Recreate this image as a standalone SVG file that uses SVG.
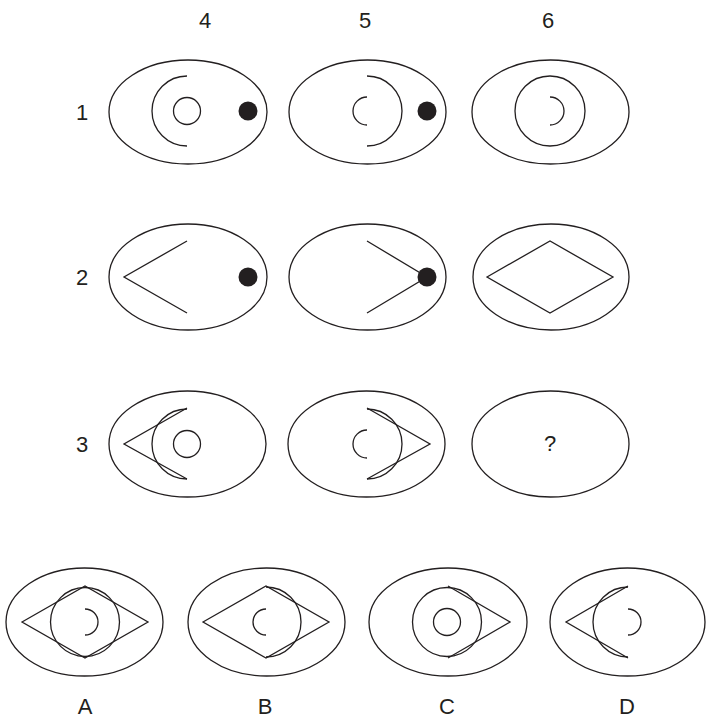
<svg xmlns="http://www.w3.org/2000/svg" width="709" height="723" viewBox="0 0 709 723">
<style>
.s{fill:none;stroke:#231f20;stroke-width:1.3}
.d{fill:#231f20;stroke:none}
.t{font-family:"Liberation Sans",Arial,sans-serif;font-size:22px;fill:#231f20;text-anchor:middle}
</style>
<rect width="709" height="723" fill="#fff"/>
<g id="labels">
<text class="t" x="205" y="28">4</text>
<text class="t" x="365" y="28">5</text>
<text class="t" x="548" y="28">6</text>
<text class="t" x="82" y="120">1</text>
<text class="t" x="82" y="285">2</text>
<text class="t" x="82" y="452">3</text>
<text class="t" x="85" y="714">A</text>
<text class="t" x="265" y="714">B</text>
<text class="t" x="447" y="714">C</text>
<text class="t" x="627" y="714">D</text>
</g>
<g id="r1c4">
<ellipse class="s" cx="188" cy="112" rx="79" ry="52"/>
<circle class="s" cx="187" cy="111" r="13.5"/>
<path class="s" d="M187,76 A35,35 0 0 0 187,146"/>
<circle class="d" cx="248" cy="111" r="9.5"/>
</g>
<g id="r1c5">
<ellipse class="s" cx="367.5" cy="112" rx="78.5" ry="52"/>
<path class="s" d="M367,97 A14,14 0 0 0 367,125"/>
<path class="s" d="M367,76 A35,35 0 0 1 367,146"/>
<circle class="d" cx="427" cy="111" r="9.5"/>
</g>
<g id="r1c6">
<ellipse class="s" cx="550.5" cy="112" rx="78.5" ry="52"/>
<circle class="s" cx="550" cy="111" r="35"/>
<path class="s" d="M550,97 A14,14 0 0 1 550,125"/>
</g>
<g id="r2c4">
<ellipse class="s" cx="188" cy="277" rx="79" ry="53"/>
<polyline class="s" points="187,241 124,277 187,313"/>
<circle class="d" cx="248" cy="277" r="9.5"/>
</g>
<g id="r2c5">
<ellipse class="s" cx="367.5" cy="277" rx="78.5" ry="53"/>
<polyline class="s" points="367,241 427,277 367,313"/>
<circle class="d" cx="427" cy="277" r="9.5"/>
</g>
<g id="r2c6">
<ellipse class="s" cx="551" cy="277" rx="78" ry="53"/>
<polygon class="s" points="487,277 550,241 613,277 550,313"/>
</g>
<g id="r3c4">
<ellipse class="s" cx="187.5" cy="444" rx="78.5" ry="53"/>
<polyline class="s" points="187,408 124,444 187,479"/>
<path class="s" d="M187,409 A35,35 0 0 0 187,479"/>
<circle class="s" cx="187" cy="444" r="13.5"/>
</g>
<g id="r3c5">
<ellipse class="s" cx="366.5" cy="444" rx="78.5" ry="53"/>
<polyline class="s" points="367,408 430,444 367,479"/>
<path class="s" d="M367,409 A35,35 0 0 1 367,479"/>
<path class="s" d="M367,430 A14,14 0 0 0 367,458"/>
</g>
<g id="r3c6">
<ellipse class="s" cx="550.5" cy="444" rx="78.5" ry="53"/>
<text class="t" x="550" y="451">?</text>
</g>
<g id="optA">
<ellipse class="s" cx="84.5" cy="622" rx="78.5" ry="54"/>
<polygon class="s" points="22,622 85,586 148,622 85,658"/>
<circle class="s" cx="85" cy="622" r="34.5"/>
<path class="s" d="M85,609 A13,13 0 0 1 85,635"/>
</g>
<g id="optB">
<ellipse class="s" cx="266.5" cy="622" rx="78.5" ry="54"/>
<polygon class="s" points="203,622 266,586 329,622 266,658"/>
<path class="s" d="M266,587 A35,35 0 0 1 266,657"/>
<path class="s" d="M266,609 A13,13 0 0 0 266,635"/>
</g>
<g id="optC">
<ellipse class="s" cx="448" cy="622" rx="79" ry="54"/>
<circle class="s" cx="447" cy="622" r="34.5"/>
<circle class="s" cx="447" cy="622" r="13.5"/>
<polyline class="s" points="448,586 510,622 448,658"/>
</g>
<g id="optD">
<ellipse class="s" cx="627.5" cy="622" rx="77.5" ry="54"/>
<polyline class="s" points="628,586 566,622 628,658"/>
<path class="s" d="M628,587 A35,35 0 0 0 628,657"/>
<path class="s" d="M628,609 A13,13 0 0 1 628,635"/>
</g>
</svg>
